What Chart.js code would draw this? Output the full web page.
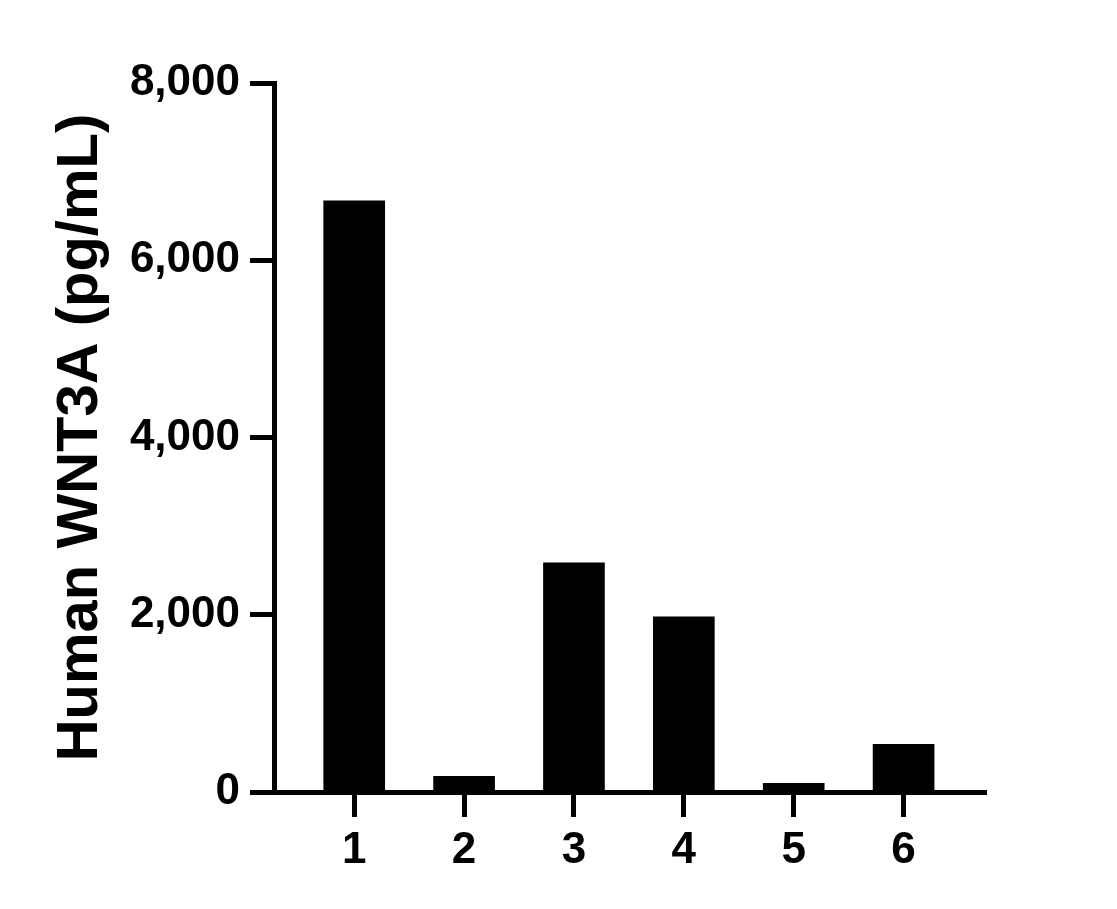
<!DOCTYPE html>
<html>
<head>
<meta charset="utf-8">
<script src="https://cdn.jsdelivr.net/npm/chart.js@4.4.1/dist/chart.umd.min.js"></script>
<style>
  html, body { margin: 0; padding: 0; background: #ffffff; }
  #wrap { width: 1117px; height: 909px; }
</style>
</head>
<body>
<div id="wrap"><canvas id="c" width="1117" height="909"></canvas></div>
<script>
const categories = [1, 2, 3, 4, 5, 6];
const values = [6670, 177, 2586, 1976, 98, 539];
const yTicks = [0, 2000, 4000, 6000, 8000];
const yTitle = 'Human WNT3A (pg/mL)';

const FONT = '"Liberation Sans", Arial, Helvetica, sans-serif';

new Chart(document.getElementById('c'), {
  type: 'bar',
  data: {
    datasets: [{
      data: categories.map((c, i) => ({ x: c, y: values[i] })),
      backgroundColor: '#000000',
      borderWidth: 0,
      barThickness: 61
    }]
  },
  options: {
    responsive: false,
    animation: false,
    devicePixelRatio: 1,
    layout: { padding: { top: 83, right: 131, bottom: 0, left: 0 } },
    plugins: { legend: { display: false }, tooltip: { enabled: false } },
    scales: {
      x: {
        type: 'linear',
        offset: false,
        min: 0.27,
        max: 6.75,
        afterBuildTicks: (s) => { s.ticks = categories.map(v => ({ value: v })); },
        afterFit: (s) => { s.height = 117; },
        grid: { display: true, offset: false, drawOnChartArea: false, drawTicks: true, tickLength: 25, tickWidth: 5, tickColor: '#000000' },
        border: { display: true, width: 5, color: '#000000' },
        ticks: {
          color: '#000000', padding: 7, maxRotation: 0, autoSkip: false,
          font: { family: FONT, size: 44, weight: 'bold' },
          callback: (v) => String(v)
        }
      },
      y: {
        type: 'linear',
        min: 0,
        max: 8000,
        afterBuildTicks: (s) => { s.ticks = yTicks.map(v => ({ value: v })); },
        afterFit: (s) => { s.width = 274; },
        grid: { display: true, drawOnChartArea: false, drawTicks: true, tickLength: 24, tickWidth: 5, tickColor: '#000000' },
        border: { display: true, width: 5, color: '#000000' },
        ticks: {
          color: '#000000', padding: 10,
          font: { family: FONT, size: 44, weight: 'bold' },
          callback: (v) => Number(v).toLocaleString('en-US')
        },
        title: {
          display: true,
          text: yTitle,
          color: '#000000',
          font: { family: FONT, size: 58, weight: 'bold' },
          padding: { top: 46, bottom: 0 }
        }
      }
    }
  }
});
</script>
</body>
</html>
